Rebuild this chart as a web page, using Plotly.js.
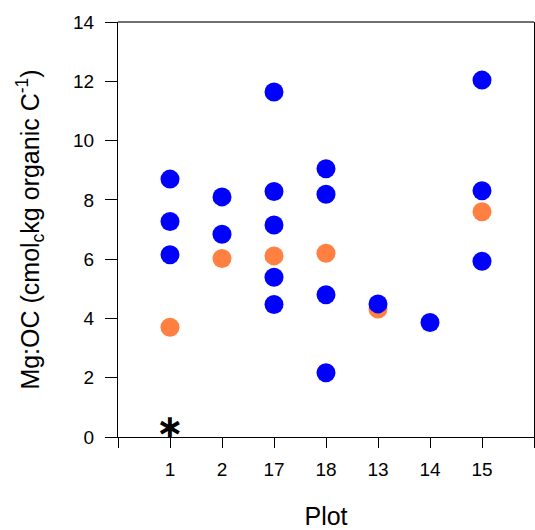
<!DOCTYPE html>
<html>
<head>
<meta charset="utf-8">
<script src="https://cdn.plot.ly/plotly-3.0.1.min.js"></script>
<style>html,body{margin:0;padding:0;background:#fff;}#chart{width:535px;height:530px;}</style>
</head>
<body>
<div id="chart"></div>
<script>
// Plot categories in display order
const categories = ['1', '2', '17', '18', '13', '14', '15'];

// Blue series (per plot)
const blueValues = {
  '1':  [8.70, 7.27, 6.15],
  '2':  [8.10, 6.84],
  '17': [11.64, 8.28, 7.15, 5.39, 4.47],
  '18': [9.05, 8.19, 4.80, 2.17],
  '13': [4.49],
  '14': [3.86],
  '15': [12.04, 8.31, 5.93]
};

// Orange series (per plot)
const orangeValues = {
  '1':  [3.70],
  '2':  [6.02],
  '17': [6.11],
  '18': [6.20],
  '13': [4.32],
  '14': [],
  '15': [7.60]
};

const yTickVals = [0, 2, 4, 6, 8, 10, 12, 14];
const markedPlot = '1';
const markerLabel = '\u2217';
const markerLabelY = 0.36;

function flatten(obj) {
  const xs = [], ys = [];
  categories.forEach((c, i) => {
    (obj[c] || []).forEach(v => { xs.push(i + 1); ys.push(v); });
  });
  return {xs, ys};
}

const o = flatten(orangeValues);
const b = flatten(blueValues);

const font = 'Liberation Sans, Arial, sans-serif';

const data = [
  {x: o.xs, y: o.ys, type: 'scatter', mode: 'markers', cliponaxis: false,
   marker: {color: '#FF8040', size: 19, line: {width: 0}}, hoverinfo: 'none'},
  {x: b.xs, y: b.ys, type: 'scatter', mode: 'markers', cliponaxis: false,
   marker: {color: '#0000FF', size: 19, line: {width: 0}}, hoverinfo: 'none'}
];

const tickvals = [0].concat(categories.map((c, i) => i + 1), [categories.length + 1]);
const ticktext = [''].concat(categories, ['']);

const layout = {
  width: 535, height: 530,
  margin: {l: 118, r: 1, t: 22, b: 93},
  paper_bgcolor: '#fff', plot_bgcolor: '#fff',
  showlegend: false,
  font: {family: font, color: '#000'},
  xaxis: {
    range: [0, categories.length + 1],
    tickmode: 'array', tickvals: tickvals, ticktext: ticktext,
    ticks: 'outside', ticklen: 10, tickwidth: 1, tickcolor: '#000',
    ticklabelstandoff: 5,
    showline: true, linecolor: '#000', linewidth: 1, mirror: false,
    showgrid: false, zeroline: false,
    tickfont: {family: font, size: 19, color: '#000'},
    title: {text: 'Plot', font: {family: font, size: 25, color: '#000'}, standoff: 30}
  },
  yaxis: {
    range: [0, 14],
    tickmode: 'array', tickvals: yTickVals,
    ticks: 'outside', ticklen: 12, tickwidth: 1, tickcolor: '#000',
    ticklabelstandoff: 7,
    showline: true, linecolor: '#000', linewidth: 1, mirror: true,
    showgrid: false, zeroline: false,
    tickfont: {family: font, size: 19, color: '#000'},
    title: {text: 'Mg:OC (cmol<sub>c</sub>kg organic C<sup>-1</sup>)',
            font: {family: font, size: 25, color: '#000'}, standoff: 26}
  },
  shapes: [{
    type: 'line', xref: 'paper', yref: 'paper', x0: 0, x1: 1, y0: 1, y1: 1,
    line: {color: '#404040', width: 1.6}
  }],
  annotations: [{
    x: categories.indexOf(markedPlot) + 1, y: markerLabelY,
    xref: 'x', yref: 'y', text: '<b>' + markerLabel + '</b>', showarrow: false,
    font: {family: 'DejaVu Sans, sans-serif', size: 33, color: '#000'},
    borderpad: 0,
    xanchor: 'center', yanchor: 'middle', yshift: 0
  }]
};

Plotly.newPlot('chart', data, layout, {staticPlot: true, displayModeBar: false});
</script>
</body>
</html>
